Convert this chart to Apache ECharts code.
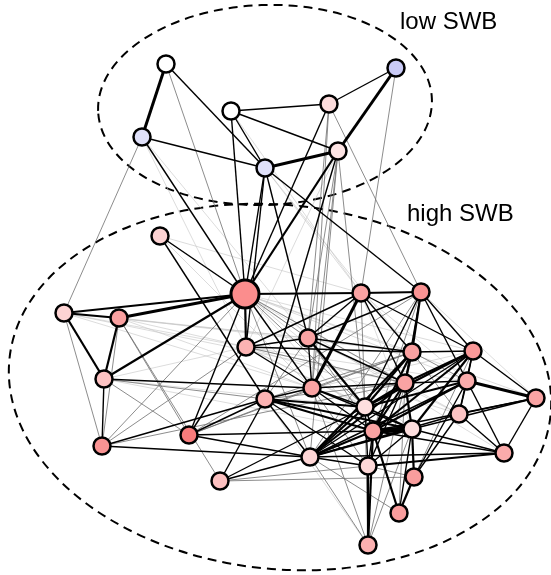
<!DOCTYPE html>
<html>
<head>
<meta charset="utf-8">
<script src="https://cdn.jsdelivr.net/npm/echarts@6/dist/echarts.min.js"></script>
<style>
  html, body { margin: 0; padding: 0; background: #fff; }
  #chart { width: 551px; height: 575px; }
</style>
</head>
<body>
<div id="chart"></div>
<script>
// Node identifiers, layout coordinates and fill colours (fill encodes SWB score).
const nodeIds = ['A','B','C','D','E','F','G',
  'H','Hub','I','J','K','L','M','N','O','P','Q','R','S','T','U','V','W','X','Y','Z',
  'AA','AB','AC','AD','AE','AF','AG','AH','AI'];
const nodeX = [166,142,231,265,329,338,396,
  160,245,64,119,104,246,361,421,308,412,473,312,405,467,265,365,536,459,373,412,
  310,368,189,102,220,414,504,399,368];
const nodeY = [64,137,111,168,104,151,68,
  236,294,313,318,379,347,293,292,338,352,351,388,383,381,399,407,398,414,431,429,
  457,466,435,446,481,477,453,513,545];
const nodeFill = ['#ffffff','#dfe0f9','#ffffff','#dfe0f9','#fcdcdc','#fde4e4','#c9caf6',
  '#fcd2d2','#fb8d8d','#fdd3d3','#f9a0a0','#fdc3c3','#fbb3b3','#faa3a3','#f99393','#f9a3a3',
  '#f9a0a0','#f99898','#f9a3a3','#f9a3a3','#faacac','#fbb3b3','#fddede','#f9a3a3','#fcc3c3',
  '#f9a3a3','#fddede','#fdd5d5','#fdd8d8','#f87c7c','#f99393','#fcc0c0','#f99d9d','#fbabab',
  '#f99d9d','#fbb0b0'];
const nodeDiameter = [17,17,17,17,17,17,17,
  17,28,17,17,17,17,17,17,17,17,17,17,17,17,17,17,17,17,17,17,
  17,17,17,17,17,17,17,17,17];

// Group annotations.
const groupLabels = ['low SWB', 'high SWB'];

// Ties: [from, to, strength 1..6].
const links = [
  ['A','B',5],['A','D',3],['A','Hub',2],['B','D',3],['B','Hub',3],['B','I',2],['B','L',1],['B','O',1],
  ['C','E',3],['C','F',3],['C','D',3],['C','Hub',3],['C','M',1],['D','F',5],['E','G',3],['F','G',5],
  ['E','Hub',3],['E','O',2],['E','R',2],['E','N',2],['G','M',2],['F','Hub',4],['F','U',3],['F','R',2],
  ['F','AA',2],['F','O',2],['F','V',2],['F','L',1],['D','Hub',3],['D','L',3],['D','O',3],['D','N',3],
  ['D','M',1],['D','P',1],
  ['H','Hub',3],['H','U',3],['H','O',1],['H','M',1],['H','R',1],
  ['Hub','I',4],['Hub','J',5],['Hub','K',4],['Hub','L',4],['Hub','M',4],['Hub','R',3],['Hub','O',2],
  ['Hub','P',1],['Hub','Q',1],['Hub','S',2],['Hub','T',1],['Hub','W',1],['Hub','X',1],['Hub','Z',1],
  ['Hub','V',2],['Hub','Y',1],['Hub','AG',1],['Hub','AA',2],['Hub','AC',3],['Hub','AD',2],
  ['I','J',4],['I','K',4],['J','K',4],['I','AD',2],['I','O',1],['I','L',1],['I','R',1],['I','S',1],
  ['J','O',1],['J','P',1],['J','R',1],['J','S',1],['J','AC',2],['J','AD',2],
  ['K','AD',3],['K','R',3],['K','L',1],['K','AC',2],['K','U',2],['K','V',1],['K','Y',1],
  ['L','O',3],['L','M',3],['L','R',3],['L','P',3],['L','S',2],['L','Z',1],['L','AC',3],['L','V',1],
  ['L','X',1],['L','T',1],
  ['M','N',4],['M','O',3],['M','R',5],['M','P',3],['M','Q',3],['M','S',3],['M','V',2],['M','T',1],['M','Z',1],
  ['N','P',4],['N','Q',3],['N','S',3],['N','T',3],['N','V',3],['N','O',3],['N','Y',2],['N','AA',2],['N','W',1],
  ['O','P',3],['O','R',3],['O','S',3],['O','V',4],['O','Y',2],['O','X',1],
  ['P','Q',3],['P','S',4],['P','V',4],['P','Y',4],['P','AA',4],['P','T',2],['P','X',2],
  ['Q','S',4],['Q','T',3],['Q','W',3],['Q','V',4],['Q','X',3],['Q','Y',4],['Q','Z',4],['Q','AA',3],['Q','AF',2],
  ['S','T',3],['T','W',5],['T','X',3],['T','AG',3],['T','V',4],['T','Y',4],['T','AA',3],
  ['S','V',4],['S','Y',4],['S','Z',4],['S','AA',4],['S','AB',3],['S','AH',2],
  ['V','Y',3],['V','Z',3],['V','AA',4],['V','AB',3],['V','AI',2],['V','AH',2],
  ['Y','Z',6],['Y','AA',4],['Y','AB',3],['Y','AI',4],['Y','AH',4],['Y','AG',3],['Y','W',3],
  ['Z','AB',3],['Z','AF',4],['Z','AH',3],['Z','AG',3],['Z','W',3],['Z','AI',2],
  ['AA','Z',4],['AA','X',3],['AA','AB',3],['AA','AI',2],['AA','AH',2],['AA','AG',3],
  ['AB','AI',4],['AB','AG',4],['AB','AF',2],['AF','AH',4],['AF','T',3],['AF','X',3],
  ['X','W',3],['X','AG',3],['W','AG',3],
  ['R','V',3],['R','S',3],['R','P',2],['R','Z',3],['R','Y',3],['R','AI',2],['R','AB',2],
  ['U','R',3],['U','V',4],['U','Y',4],['U','Z',4],['U','AA',3],['U','AB',3],['U','S',2],['U','P',2],
  ['U','O',2],['U','AI',1],['U','Q',1],
  ['AE','U',3],['AE','AA',3],['AE','V',3],['AE','AF',2],['AE','AB',2],['AE','J',2],
  ['AC','U',3],['AC','R',2],['AC','Y',3],['AC','AA',3],['AC','P',2],['AC','N',2],
  ['AD','U',3],['AD','S',2],['AD','AA',3],['AD','L',2],['AI','S',2]
];

// Stroke appearance for each tie strength.
const strengthWidth = [0, 0.6, 0.8, 1.4, 2.2, 3.0, 5.5];
const strengthColor = ['#000', '#c4c4c4', '#6e6e6e', '#000000', '#000000', '#000000', '#000000'];

const indexOf = {};
nodeIds.forEach((id, i) => { indexOf[id] = i; });

const graphNodes = nodeIds.map((id, i) => ({
  name: id,
  value: [nodeX[i], nodeY[i]],
  symbolSize: nodeDiameter[i],
  itemStyle: { color: nodeFill[i], borderColor: '#000', borderWidth: i === 8 ? 3 : 2.5 }
}));

const graphLinks = links
  .slice()
  .sort((a, b) => a[2] - b[2])
  .map(([s, t, w]) => ({
    source: indexOf[s],
    target: indexOf[t],
    lineStyle: { width: strengthWidth[w], color: strengthColor[w], opacity: 1 }
  }));

const chart = echarts.init(document.getElementById('chart'), null, { renderer: 'canvas' });

const dash = { fill: null, stroke: '#000', lineWidth: 2, lineDash: [9, 6] };
const labelFont = '24px "Liberation Sans", Arial, Helvetica, sans-serif';

chart.setOption({
  animation: false,
  backgroundColor: '#fff',
  grid: { left: 0, right: 0, top: 0, bottom: 0 },
  xAxis: { type: 'value', min: 0, max: 551, show: false },
  yAxis: { type: 'value', min: 0, max: 575, inverse: true, show: false },
  graphic: [
    { type: 'ellipse', x: 265, y: 105, rotation: 0.035, z: 1,
      shape: { cx: 0, cy: 0, rx: 167, ry: 100 }, style: dash, silent: true },
    { type: 'ellipse', x: 280, y: 387, rotation: -0.105, z: 1,
      shape: { cx: 0, cy: 0, rx: 272, ry: 182 }, style: dash, silent: true },
    { type: 'text', x: 400, y: 10, z: 10,
      style: { text: groupLabels[0], font: labelFont, fill: '#000', verticalAlign: 'top' } },
    { type: 'text', x: 407, y: 202, z: 10,
      style: { text: groupLabels[1], font: labelFont, fill: '#000', verticalAlign: 'top' } }
  ],
  series: [{
    type: 'graph',
    coordinateSystem: 'cartesian2d',
    layout: 'none',
    symbol: 'circle',
    edgeSymbol: ['none', 'none'],
    label: { show: false },
    emphasis: { disabled: true },
    silent: true,
    z: 3,
    data: graphNodes,
    links: graphLinks
  }]
});
</script>
</body>
</html>
